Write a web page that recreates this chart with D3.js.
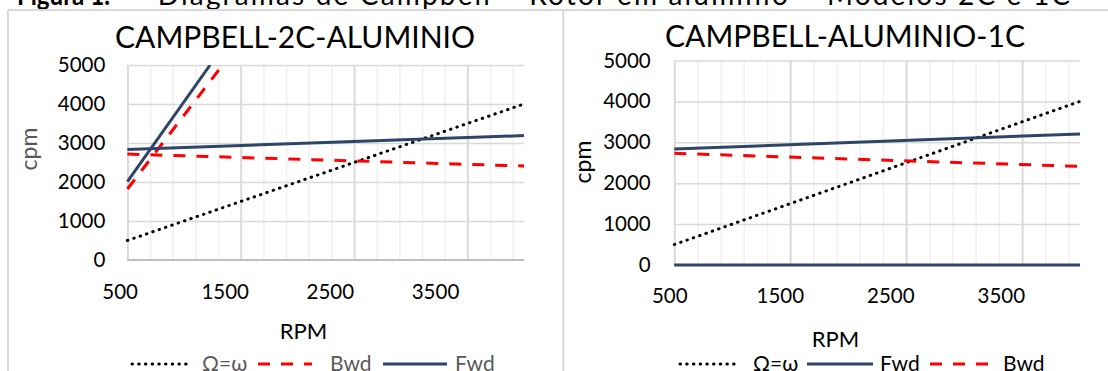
<html>
  <head>
    <meta charset="utf-8">
    <script src="https://d3js.org/d3.v7.min.js"></script>
    <style>
      body {
        margin: 0px;
        background: white;
      }
      text {
        font-family: Lato, sans-serif;
      }
      .axis .domain {
        display: none;
      }
      .axis .tick text {
        font-size: 20.5px;
        fill: #000;
      }
      .grid--minor .tick line {
        stroke: #f0f0f0;
        stroke-width: 1.5px;
      }
      .grid--major .tick line {
        stroke: #d9d9d9;
        stroke-width: 2px;
      }
      .grid--y .tick line {
        stroke: #d9d9d9;
        stroke-width: 1.5px;
      }
      .grid .tick text {
        display: none;
      }
      .grid .domain {
        display: none;
      }
      .frame {
        stroke: #d9d9d9;
        stroke-width: 2px;
      }
    </style>
  </head>
  <body>
    <svg width="1108" height="371"></svg>
    <script>
      // values
      var rpmTicks = [500, 1500, 2500, 3500];
      var rpmMinorTicks = [700, 900, 1100, 1300, 1700, 1900, 2100, 2300, 2700, 2900, 3100, 3300, 3700, 3900];
      var cpmTicks = [0, 1000, 2000, 3000, 4000, 5000];

      var omega = [[500, 500], [4000, 4000]];

      // 2C model
      var bwd2C = [[500, 2715], [4000, 2410]];
      var bwd2CSteep = [[500, 1820], [1340, 5000]];
      var fwd2C = [[500, 2835], [4000, 3190]];
      var fwd2CSteep = [[500, 2010], [1230, 5000]];

      // 1C model
      var fwd1C = [[500, 2835], [4000, 3205]];
      var fwd1CZero = [[500, 0], [4000, 0]];
      var bwd1C = [[500, 2730], [4000, 2410]];

      var styles = {
        omega: { stroke: '#000', width: 3, dash: '0.5,6.2', cap: 'round' },
        bwd: { stroke: '#ff0000', width: 3, dash: '12,11', cap: 'butt' },
        fwd: { stroke: '#2e4568', width: 3, dash: null, cap: 'butt' }
      };

      var charts = [
        {
          id: 'c2',
          title: 'CAMPBELL-2C-ALUMINIO', titleX: 295, titleY: 48,
          left: 127.4, right: 524, top: 65, bottom: 260,
          labelRange: [119.6, 435], xPad: 24.4, yPad: 22,
          cpm: { x: 37, y: 149, fill: '#595959' },
          rpm: { x: 303.5, y: 339 },
          series: [
            { key: 'omega', data: omega },
            { key: 'bwd', data: bwd2C },
            { key: 'bwd', data: bwd2CSteep },
            { key: 'fwd', data: fwd2C },
            { key: 'fwd', data: fwd2CSteep }
          ],
          legendFill: '#595959',
          legend: [
            { key: 'omega', label: 'Ω=ω', x1: 132, x2: 188, tx: 202 },
            { key: 'bwd', label: 'Bwd', x1: 258, x2: 312, tx: 330 },
            { key: 'fwd', label: 'Fwd', x1: 383, x2: 447, tx: 455 }
          ]
        },
        {
          id: 'c1',
          title: 'CAMPBELL-ALUMINIO-1C', titleX: 845, titleY: 46.7,
          left: 674.3, right: 1080, top: 60.5, bottom: 265,
          labelRange: [669.3, 1000.8], xPad: 23.4, yPad: 23.6,
          cpm: { x: 591, y: 162, fill: '#000' },
          rpm: { x: 835.5, y: 347 },
          series: [
            { key: 'omega', data: omega },
            { key: 'fwd', data: fwd1C },
            { key: 'fwd', data: fwd1CZero },
            { key: 'bwd', data: bwd1C }
          ],
          legendFill: '#000',
          legend: [
            { key: 'omega', label: 'Ω=ω', x1: 680, x2: 740, tx: 753 },
            { key: 'fwd', label: 'Fwd', x1: 807, x2: 873, tx: 880 },
            { key: 'bwd', label: 'Bwd', x1: 930, x2: 988, tx: 1003 }
          ]
        }
      ];

      var svg = d3.select('svg');

      // caption of the figure, cut at the top of the picture
      svg.append('text')
          .attr('x', 17).attr('y', 4.5)
          .attr('font-size', 28).attr('font-weight', 'bold')
          .attr('textLength', 93).attr('lengthAdjust', 'spacingAndGlyphs')
          .text('Figura 1.');
      svg.append('text')
          .attr('x', 130).attr('y', 4.5)
          .attr('font-size', 28)
          .attr('textLength', 940).attr('lengthAdjust', 'spacing')
          .text('– Diagramas de Campbell – Rotor em alumínio – Modelos 2C e 1C');

      // chart frames
      svg.append('line').attr('class', 'frame')
          .attr('x1', 8).attr('x2', 1108).attr('y1', 10).attr('y2', 10);
      svg.append('line').attr('class', 'frame')
          .attr('x1', 8).attr('x2', 8).attr('y1', 10).attr('y2', 371);
      svg.append('line').attr('class', 'frame')
          .attr('x1', 563.3).attr('x2', 563.3).attr('y1', 10).attr('y2', 371);

      function applyStyle(sel, key) {
        var s = styles[key];
        sel.attr('fill', 'none')
          .attr('stroke', s.stroke)
          .attr('stroke-width', s.width)
          .attr('stroke-linecap', s.cap)
          .attr('stroke-dasharray', s.dash);
      }

      function render(c) {
        var xScale = d3.scaleLinear().domain([500, 4000]).range([c.left, c.right]);
        var xLabelScale = d3.scaleLinear().domain([500, 3500]).range(c.labelRange);
        var yScale = d3.scaleLinear().domain([0, 5000]).range([c.bottom, c.top]);
        var innerHeight = c.bottom - c.top;
        var innerWidth = c.right - c.left;

        var g = svg.append('g');

        // gridlines
        g.append('g')
            .attr('class', 'grid grid--minor')
            .attr('transform', `translate(0,${c.bottom})`)
            .call(d3.axisBottom(xScale).tickValues(rpmMinorTicks).tickSize(-innerHeight));
        g.append('g')
            .attr('class', 'grid grid--major')
            .attr('transform', `translate(0,${c.bottom})`)
            .call(d3.axisBottom(xScale).tickValues(rpmTicks).tickSize(-innerHeight));
        g.append('g')
            .attr('class', 'grid grid--y')
            .attr('transform', `translate(${c.left},0)`)
            .call(d3.axisLeft(yScale).tickValues(cpmTicks.slice(1)).tickSize(-innerWidth));
        g.append('line')
            .attr('x1', c.left).attr('x2', c.right)
            .attr('y1', c.bottom).attr('y2', c.bottom)
            .attr('stroke', '#bfbfbf').attr('stroke-width', 2);

        // axis labels
        g.append('g')
            .attr('class', 'axis')
            .attr('transform', `translate(0,${c.bottom})`)
            .call(d3.axisBottom(xLabelScale).tickValues(rpmTicks)
              .tickFormat(d3.format('d')).tickSize(0).tickPadding(c.xPad));
        g.append('g')
            .attr('class', 'axis')
            .attr('transform', `translate(${c.left},0)`)
            .call(d3.axisLeft(yScale).tickValues(cpmTicks)
              .tickFormat(d3.format('d')).tickSize(0).tickPadding(c.yPad));

        // series
        svg.append('clipPath').attr('id', 'clip-' + c.id)
          .append('rect')
            .attr('x', c.left - 3).attr('y', c.top)
            .attr('width', innerWidth + 6).attr('height', innerHeight + 5);

        var line = d3.line()
          .x(d => xScale(d[0]))
          .y(d => yScale(d[1]));

        var marksG = g.append('g').attr('clip-path', `url(#clip-${c.id})`);
        c.series.forEach(function (s) {
          marksG.append('path')
              .attr('d', line(s.data))
              .call(applyStyle, s.key);
        });

        // titles
        g.append('text')
            .attr('x', c.titleX).attr('y', c.titleY)
            .attr('text-anchor', 'middle')
            .attr('font-size', 30)
            .text(c.title);
        g.append('text')
            .attr('transform', `translate(${c.cpm.x},${c.cpm.y}) rotate(-90)`)
            .attr('text-anchor', 'middle')
            .attr('font-size', 23)
            .attr('fill', c.cpm.fill)
            .text('cpm');
        g.append('text')
            .attr('x', c.rpm.x).attr('y', c.rpm.y)
            .attr('text-anchor', 'middle')
            .attr('font-size', 22)
            .text('RPM');

        // legend
        var legendG = g.append('g');
        c.legend.forEach(function (d) {
          legendG.append('line')
              .attr('x1', d.x1).attr('x2', d.x2)
              .attr('y1', 364).attr('y2', 364)
              .call(applyStyle, d.key);
          legendG.append('text')
              .attr('x', d.tx).attr('y', 370.5)
              .attr('font-size', 21)
              .attr('fill', c.legendFill)
              .text(d.label);
        });
      }

      charts.forEach(render);
    </script>
  </body>
</html>
